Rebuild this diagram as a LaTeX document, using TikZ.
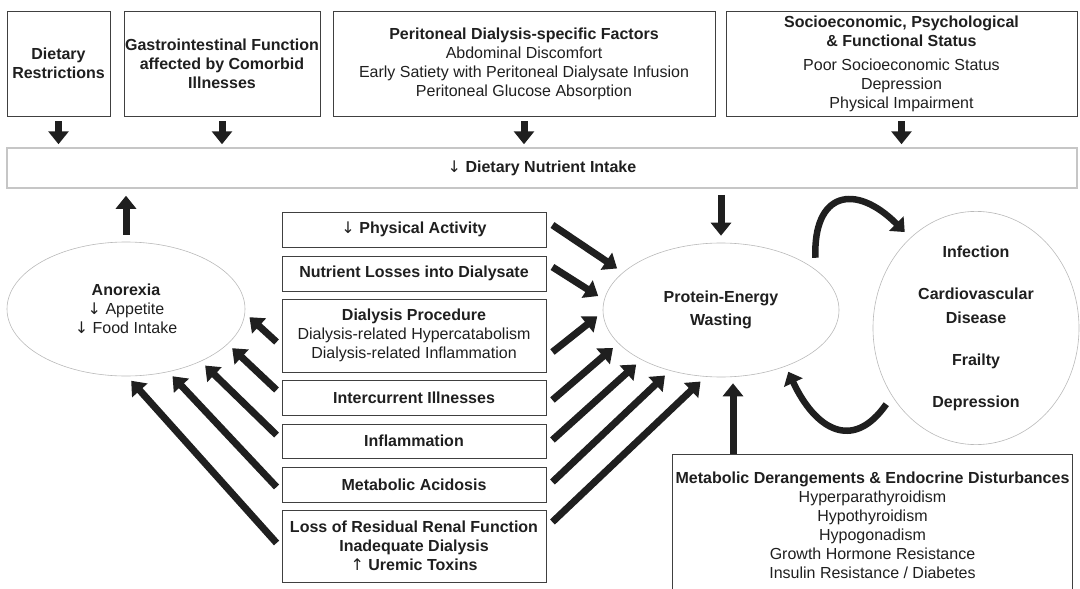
\documentclass[tikz,border=0pt]{standalone}
\usepackage{fontspec}
\setmainfont{Liberation Sans}
\newfontfamily\arw{DejaVu Sans}
\usetikzlibrary{arrows.meta, shapes.geometric}

\newcommand{\dn}{{\arw\mdseries ↓}}
\newcommand{\up}{{\arw\mdseries ↑}}

\begin{document}
\begin{tikzpicture}[
  x=1pt, y=-1pt,
  every node/.style={font=\fontsize{16}{19}\selectfont, align=center, text=black!88},
  box/.style={draw=black!75, line width=0.9pt, inner sep=0pt},
  blob/.style={ellipse, draw=gray!55, line width=0.6pt, inner sep=0pt},
  fat/.style={line width=7pt, draw=black!88, -{Triangle[length=13pt, width=20pt]}},
  curvearrow/.style={line width=6.5pt, draw=black!88, -{Triangle[length=12pt, width=20pt]}}
]
\useasboundingbox (0,0) rectangle (1080,589);

% Top factors
\node[box, minimum width=103pt, minimum height=105pt] (diet) at (58.5,63.5) {\textbf{Dietary}\\\textbf{Restrictions}};
\node[box, minimum width=196pt, minimum height=105pt] (gi) at (222,63.5) {\textbf{Gastrointestinal Function}\\\textbf{affected by Comorbid}\\\textbf{Illnesses}};
\node[box, minimum width=382pt, minimum height=105pt] (pd) at (524,63.5) {\textbf{Peritoneal Dialysis-specific Factors}\\Abdominal Discomfort\\Early Satiety with Peritoneal Dialysate Infusion\\Peritoneal Glucose Absorption};
\node[box, minimum width=351pt, minimum height=105pt] (socio) at (901.5,63.5) {\textbf{Socioeconomic, Psychological}\\\textbf{\& Functional Status}\\[5pt]Poor Socioeconomic Status\\Depression\\Physical Impairment};

% Intake band
\node[draw=gray!45, line width=1.5pt, minimum width=1070pt, minimum height=40pt] (band) at (542,168) {\dn\ \textbf{Dietary Nutrient Intake}};

% Middle causes
\node[box, minimum width=264pt, minimum height=35pt] (pa) at (414,229.5) {\dn\ \textbf{Physical Activity}};
\node[box, minimum width=264pt, minimum height=35pt] (nl) at (414,273.5) {\textbf{Nutrient Losses into Dialysate}};
\node[box, minimum width=264pt, minimum height=73pt] (dp) at (414,335.5) {\textbf{Dialysis Procedure}\\Dialysis-related Hypercatabolism\\Dialysis-related Inflammation};
\node[box, minimum width=264pt, minimum height=35pt] (ic) at (414,397.5) {\textbf{Intercurrent Illnesses}};
\node[box, minimum width=264pt, minimum height=34pt] (inf) at (414,441) {\textbf{Inflammation}};
\node[box, minimum width=264pt, minimum height=35pt] (ma) at (414,484.5) {\textbf{Metabolic Acidosis}};
\node[box, minimum width=264pt, minimum height=72pt] (loss) at (414,546) {\textbf{Loss of Residual Renal Function}\\\textbf{Inadequate Dialysis}\\\up\ \textbf{Uremic Toxins}};

% Ellipses
\node[blob, minimum width=238pt, minimum height=134pt] (anorexia) at (126,309) {\textbf{Anorexia}\\\dn\ Appetite\\\dn\ Food Intake};
\node[blob, minimum width=236pt, minimum height=134pt] (pew) at (721,310) {\textbf{Protein-Energy}\\[4pt]\textbf{Wasting}};
\node[blob, minimum width=206pt, minimum height=226pt] (outc) at (976,328) {\textbf{Infection}\\[23pt]\textbf{Cardiovascular}\\[5pt]\textbf{Disease}\\[23pt]\textbf{Frailty}\\[23pt]\textbf{Depression}};

% Endocrine box (runs off the bottom)
\node[inner sep=0pt, minimum width=399pt, minimum height=143pt, anchor=north] (mde) at (872.5,454) {\textbf{Metabolic Derangements \& Endocrine Disturbances}\\Hyperparathyroidism\\Hypothyroidism\\Hypogonadism\\Growth Hormone Resistance\\Insulin Resistance / Diabetes};
\draw[draw=black!75, line width=0.9pt] (mde.south west) -- (mde.north west) -- (mde.north east) -- (mde.south east);

% Edges
\foreach \f in {diet, gi, pd, socio}
  \draw[fat, shorten <=5pt, shorten >=3pt] (\f.south) -- (\f.south |- band.north);
\draw[fat, shorten <=7pt, shorten >=7pt] (anorexia.north) -- (anorexia.north |- band.south);
\draw[fat, shorten <=6pt, shorten >=7pt] (pew.north |- band.south) -- (pew.north);

% Causes to anorexia
\foreach \b/\dy/\a in {dp/-6.5/-2, ic/7.5/-19, inf/6/-35, ma/-2.5/-56, loss/3/-89}
  \draw[fat, shorten >=6pt] ([shift={(-5pt,\dy pt)}]\b.west) -- (anorexia.\a);

% Causes to wasting
\foreach \b/\dy/\a in {pa/4.5/159, nl/6.5/175, dp/-16.5/181, ic/-2.5/198, inf/1/212, ma/2.5/230, loss/24/257}
  \draw[fat, shorten >=7pt] ([shift={(6pt,\dy pt)}]\b.east) -- (pew.\a);

% Endocrine to wasting
\path ([xshift=12pt]pew.south) coordinate (pewin);
\draw[fat, shorten >=6pt] (pewin |- mde.north) -- (pewin);

% Vicious circle
\draw[curvearrow, shorten <=12pt, shorten >=8pt] (pew.23) to[out=92, in=135, looseness=2] (outc.126);
\draw[curvearrow, shorten <=10pt, shorten >=6pt] (outc.219) to[out=-125, in=-65, looseness=1.6] (pew.-41);
\end{tikzpicture}
\end{document}
